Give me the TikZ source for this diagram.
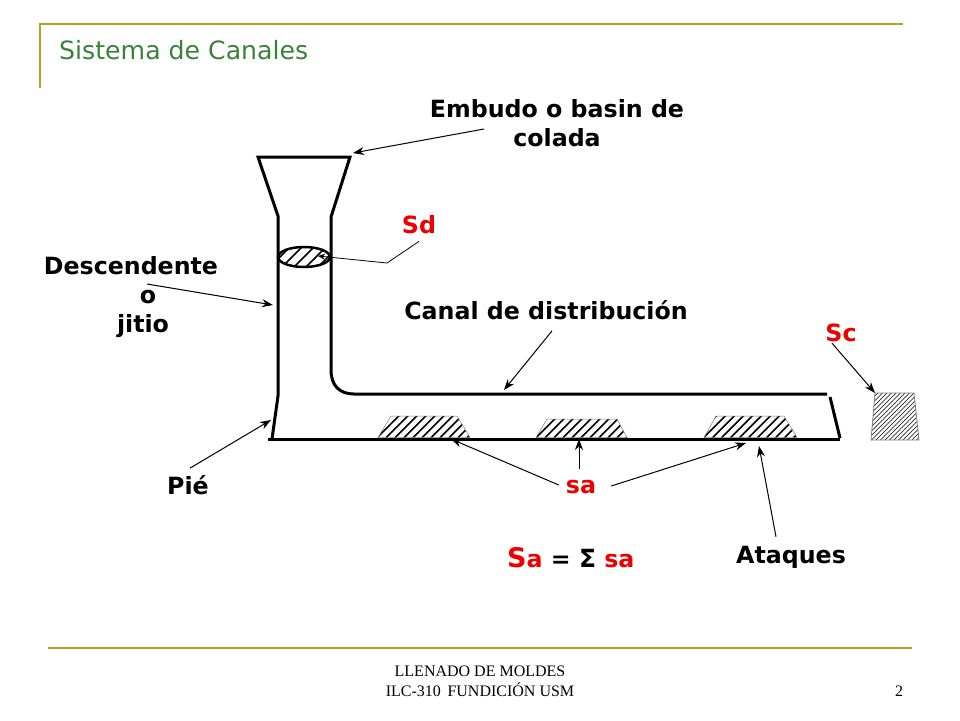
\documentclass[tikz,border=0pt]{standalone}
\usepackage{fontspec}
\setmainfont{DejaVu Sans}
\newfontfamily\footfont{Liberation Serif}
\usetikzlibrary{arrows.meta,positioning,shapes.geometric}
\definecolor{goldline}{RGB}{184,160,40}
\definecolor{titlegreen}{RGB}{58,130,58}
\definecolor{labelred}{RGB}{238,0,0}
\tikzset{
    wall/.style={line width=3pt,line join=miter},
    pointer/.style={-{Stealth[length=11pt,width=8pt]},line width=1pt},
    hatched/.style 2 args={path picture={
        \foreach \d in {-30,...,30}
            \draw[black,shift={(path picture bounding box.center)},line width=#2]
                (\d*#1-60,60)--(\d*#1+60,-60);}},
    gate/.style={draw=gray,line width=.5pt,hatched={9}{1.7pt}},
    lbltext/.style={font=\bfseries\fontsize{23.7}{29}\selectfont,align=center,inner sep=0pt},
}
\begin{document}
\begin{tikzpicture}[x=1pt,y=-1pt]%
        \useasboundingbox (0,0) rectangle (960,720); %%
        \begin{scope}
            \tikzstyle{every node}=[inner sep=0pt];%%
            \node[text=titlegreen,font=\fontsize{25.2}{30}\selectfont,anchor=base west] (title) at (59,59) {Sistema de Canales}; %%
            \node[font=\footfont\fontsize{16}{20}\selectfont,align=center] (foot) at (480,681) {LLENADO DE MOLDES\\ILC-310\, FUNDICIÓN USM}; %%
            \node[font=\footfont\fontsize{16}{20}\selectfont] (page) at (899,691) {2}; %%
        \end{scope}
        \draw[goldline,line width=1.6pt] (903,24)--(40,24)--(40,88); %%
        \draw[goldline,line width=1.6pt] (48,648)--(912,648); %%
        % canales
        \draw[wall] (272,439)--(278,396)--(278,216)--(258,157)--(350,157)--(331,217)--(331,370)
            .. controls (331,386) and (340,394) .. (354,394)--(827,394); %%
        \draw[wall] (268,439)--(840,439); %%
        \draw[wall] (830,397)--(840,438); %%
        \node[draw,line width=2.5pt,ellipse,minimum width=52pt,minimum height=20pt,inner sep=0pt,
            hatched={12}{1.7pt}] (sdcut) at (304,257) {}; %%
        % ataques
        \path[gate] (378,437.5)--(391,416)--(457,416)--(470,437.5)--cycle; %%
        \path[gate] (536,437.5)--(547,419)--(617,419)--(627,437.5)--cycle; %%
        \path[gate] (704,437.5)--(716,416)--(784,416)--(797,437.5)--cycle; %%
        \path[draw=gray,line width=.8pt,hatched={4.5}{.6pt}]
            (875,393)--(914,393)--(919,440)--(871,440)--cycle; %%
        \begin{scope}
            \tikzstyle{every node}=[lbltext];%%
            \node (lblembudo) at (557,123) {Embudo o basin de\\colada}; %%
            \node[text=labelred] (lblsd) at (419,225) {Sd}; %%
            \node (lbldesc) at (131,297) {Descendente\\\hspace*{34pt}o\\\hspace*{24pt}jitio}; %%
            \node (lblcanal) at (546,310) {Canal de distribución}; %%
            \node[text=labelred] (lblsc) at (841,333) {Sc}; %%
            \node (lblpie) at (188,485) {Pié}; %%
            \node[text=labelred] (lblsa) at (581,487) {sa}; %%
            \node (lblataques) at (791,557) {Ataques}; %%
            \node[anchor=base west] (lblsum) at (507,567) {\textcolor{labelred}{{\fontsize{27}{30}\selectfont S}a} = {\fontsize{25}{30}\selectfont Σ} \textcolor{labelred}{sa}}; %%
        \end{scope}
        \coordinate (embudostart) at (484,129); %%
        \coordinate (embudotop) at (353,153); %%
        \coordinate (sdbend) at (387,263); %%
        \coordinate (sdtip) at (318,256); %%
        \coordinate (descstart) at (147,284); %%
        \coordinate (stem) at (273,305); %%
        \coordinate (canaltop) at (504,390); %%
        \coordinate (sccorner) at (875,393); %%
        \coordinate (piecorner) at (271,420); %%
        \coordinate (gateone) at (451,439); %%
        \coordinate (gatetwo) at (579,439); %%
        \coordinate (gatethree) at (746,443); %%
        \coordinate (gatefour) at (759,446); %%
        \draw[pointer] (embudostart)--(embudotop); %%
        \draw[line width=.8pt] (lblsd.south)+(0,7)--(sdbend); %%
        \draw[-{Stealth[length=7pt,width=6pt]},line width=.8pt] (sdbend)--(sdtip); %%
        \draw[pointer] (descstart)--(stem); %%
        \draw[pointer] (lblcanal.south)+(6,11)--(canaltop); %%
        \draw[pointer] (lblsc.south)+(-9,1)--(sccorner); %%
        \draw[pointer] (lblpie.north)+(2,-7)--(piecorner); %%
        \draw[pointer] (lblsa.west)+(-7,-2)--(gateone); %%
        \draw[pointer] (lblsa.north)+(-2,-11)--(gatetwo); %%
        \draw[pointer] (lblsa.east)+(15,-1)--(gatethree); %%
        \draw[pointer] (lblataques.north)+(-15,-9)--(gatefour); %%
\end{tikzpicture}
\end{document}
